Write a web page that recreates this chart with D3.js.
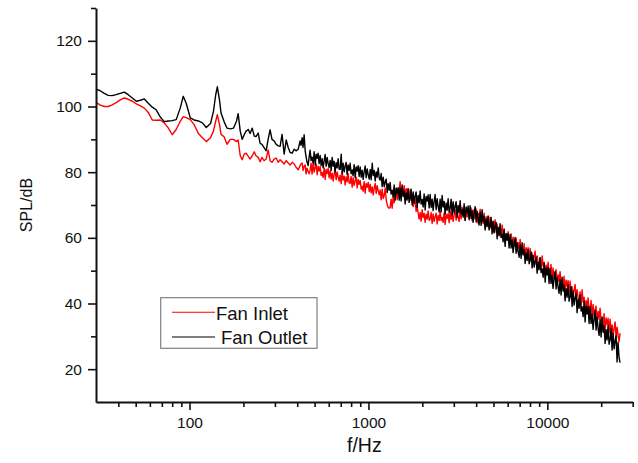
<!DOCTYPE html>
<html>
<head>
<meta charset="utf-8">
<script src="https://cdn.jsdelivr.net/npm/d3@7"></script>
<style>
  body { margin: 0; background: #fff; }
  svg { display: block; font-family: "Liberation Sans", Arial, sans-serif; }
</style>
</head>
<body>
<div id="chart"></div>
<script>
// Spectrum: one shared frequency grid, two SPL series
const freqHz = [
  30, 31.7, 33.4, 35.1, 36.9, 38.9, 41.0, 43.2, 45.4, 47.9,
  50.4, 53.1, 55.9, 58.8, 61.9, 65.1, 68.6, 72.2, 76.0, 80.0,
  84.2, 88.7, 92.2, 95.8, 101, 106, 112, 118, 124, 131,
  136, 140, 143, 147, 150, 156, 162, 169, 176, 183, 187,
  192, 197, 202, 207, 213, 218, 224, 230, 235, 242,
  248, 254, 261, 268, 275, 282, 289, 297, 305, 313,
  321, 329, 338, 347, 356, 365, 375, 384, 394, 405,
  415, 420, 426, 431, 437, 443, 448, 454, 460, 466,
  472, 478, 484, 491, 497, 504, 510, 517, 523, 530,
  537, 544, 551, 558, 566, 573, 580, 588, 595, 603,
  611, 619, 627, 635, 643, 651, 660, 668, 677, 686,
  695, 704, 713, 722, 732, 741, 751, 760, 770, 780,
  790, 800, 811, 821, 832, 843, 854, 865, 876, 887,
  899, 911, 922, 934, 946, 959, 971, 984, 997, 1010,
  1023, 1036, 1050, 1063, 1077, 1091, 1105, 1119, 1134, 1149,
  1163, 1178, 1193, 1209, 1225, 1241, 1257, 1273, 1289, 1306,
  1322, 1339, 1357, 1374, 1392, 1410, 1429, 1447, 1466, 1485,
  1503, 1523, 1543, 1563, 1583, 1604, 1624, 1645, 1667, 1688,
  1710, 1732, 1755, 1778, 1800, 1824, 1847, 1871, 1896, 1920,
  1945, 1970, 1996, 2022, 2048, 2075, 2101, 2129, 2156, 2184,
  2212, 2241, 2270, 2299, 2329, 2359, 2390, 2421, 2452, 2484,
  2516, 2549, 2582, 2615, 2649, 2683, 2718, 2753, 2789, 2825,
  2862, 2899, 2937, 2975, 3013, 3052, 3092, 3132, 3172, 3213,
  3255, 3297, 3340, 3383, 3427, 3471, 3516, 3562, 3608, 3654,
  3700, 3748, 3797, 3846, 3896, 3947, 3998, 4050, 4102, 4155,
  4210, 4264, 4319, 4375, 4432, 4489, 4548, 4607, 4666, 4726,
  4787, 4849, 4912, 4976, 5040, 5105, 5172, 5239, 5307, 5375,
  5445, 5516, 5587, 5659, 5733, 5807, 5882, 5958, 6036, 6114,
  6194, 6274, 6355, 6437, 6520, 6605, 6690, 6777, 6865, 6954,
  7045, 7136, 7228, 7322, 7417, 7513, 7610, 7709, 7809, 7910,
  8013, 8117, 8221, 8328, 8436, 8545, 8656, 8768, 8881, 8990,
  9100, 9225, 9350, 9475, 9600, 9725, 9850, 9975, 10100, 10225,
  10350, 10485, 10620, 10760, 10900, 11045, 11190, 11335, 11480, 11630,
  11780, 11935, 12090, 12245, 12400, 12565, 12730, 12895, 13060, 13230,
  13400, 13575, 13750, 13930, 14110, 14295, 14480, 14665, 14850, 15045,
  15240, 15440, 15640, 15845, 16050, 16260, 16470, 16685, 16900, 17115,
  17330, 17555, 17780, 18015, 18250, 18485, 18720, 18965, 19210, 19460,
  19710, 19970, 20230, 20495, 20760, 21030, 21300, 21575, 21850, 22135,
  22420, 22715, 23010, 23310, 23610, 23915, 24220, 24535, 24850, 25175,
  25500
];

const inletDb = [
  101.3, 100.4, 100.0, 100.0, 100.5, 101.2, 102.0, 102.6, 102.2, 101.6,
  100.8, 100.2, 99.5, 98.2, 95.9, 95.8, 95.9, 95.0, 93.5, 91.4,
  93.0, 95.5, 96.9, 96.6, 96.0, 94.5, 91.8, 90.5, 89.3, 90.5,
  92.5, 95.5, 97.5, 94.5, 91.5, 90.8, 88.5, 90.0, 90.0, 89.3, 89.8,
  85.0, 83.8, 85.5, 85.8, 84.8, 84.0, 85.0, 86.2, 85.0, 84.5,
  83.2, 84.5, 83.5, 84.0, 86.8, 83.5, 83.0, 84.0, 84.3, 83.0,
  83.8, 83.2, 82.5, 83.5, 82.8, 82.2, 83.0, 82.5, 81.5, 80.7,
  82.0, 82.5, 82.8, 80.5, 81.8, 82.2, 79.5, 81.2, 80.2, 79.5,
  80.6, 82.7, 79.4, 83.2, 80.0, 81.4, 82.5, 79.2, 81.8, 80.3,
  81.7, 79.0, 79.9, 78.4, 81.3, 77.8, 80.8, 79.6, 81.1, 78.3,
  80.5, 77.9, 79.7, 77.3, 79.3, 80.8, 77.7, 80.1, 78.5, 77.3,
  79.1, 76.5, 80.0, 77.6, 78.8, 76.1, 78.6, 77.1, 79.6, 76.7,
  76.6, 78.7, 75.4, 78.3, 76.0, 77.4, 78.5, 75.2, 77.8, 76.3,
  77.5, 74.8, 75.7, 74.2, 77.1, 73.6, 76.6, 75.4, 76.9, 74.1,
  76.3, 73.7, 75.5, 73.1, 75.1, 76.6, 73.5, 75.9, 74.3, 73.1,
  74.6, 71.6, 74.8, 72.0, 72.9, 75.2, 71.5, 70.1, 69.3, 69.0,
  69.2, 71.8, 69.0, 72.5, 70.7, 72.7, 74.3, 71.6, 74.7, 73.8,
  77.1, 74.2, 74.9, 73.2, 75.9, 72.2, 75.0, 73.6, 74.9, 71.9,
  74.7, 71.5, 72.6, 69.5, 70.9, 71.8, 68.0, 69.7, 67.5, 65.7,
  67.7, 65.1, 68.6, 66.2, 67.4, 64.7, 67.2, 65.7, 68.2, 65.3,
  65.7, 67.7, 64.4, 67.3, 65.0, 66.4, 67.5, 64.2, 66.8, 65.3,
  68.0, 65.3, 66.2, 64.7, 67.6, 64.1, 67.1, 65.9, 67.4, 64.6,
  68.2, 65.6, 67.4, 65.0, 67.0, 68.5, 65.4, 67.8, 66.2, 65.0,
  68.4, 65.8, 69.3, 66.9, 68.1, 65.4, 67.9, 66.4, 68.9, 66.0,
  66.9, 69.1, 65.3, 68.5, 65.8, 66.9, 68.8, 64.6, 67.5, 65.8,
  68.7, 65.3, 66.3, 64.3, 67.5, 63.3, 66.4, 64.9, 66.4, 62.9,
  66.3, 63.0, 64.9, 61.8, 63.9, 65.5, 61.7, 64.2, 62.1, 60.6,
  63.6, 60.2, 63.9, 61.0, 62.2, 58.7, 61.2, 59.3, 61.9, 58.4,
  59.1, 61.2, 57.3, 60.2, 57.4, 58.9, 59.9, 55.9, 58.6, 56.7,
  59.5, 56.1, 57.0, 55.0, 58.2, 54.0, 57.0, 55.5, 57.0, 53.4,
  56.8, 53.5, 55.3, 52.3, 54.3, 55.9, 52.0, 54.5, 52.4, 50.9,
  53.9, 50.3, 54.5, 51.3, 52.6, 48.9, 51.7, 49.6, 52.6, 48.7,
  49.6, 51.9, 47.4, 50.8, 47.6, 49.2, 50.3, 45.8, 48.8, 46.7,
  49.7, 46.0, 47.0, 44.8, 48.3, 43.6, 47.1, 45.3, 47.0, 43.1,
  46.8, 43.1, 45.1, 41.7, 44.0, 45.8, 41.4, 44.2, 41.9, 40.1,
  43.6, 39.5, 44.2, 40.4, 41.9, 37.7, 40.9, 38.5, 41.7, 37.3,
  38.3, 40.9, 35.9, 39.7, 36.1, 38.0, 39.2, 34.2, 37.6, 35.2,
  38.6, 34.4, 35.5, 33.0, 36.9, 31.7, 35.6, 33.6, 35.5, 31.1,
  35.2, 31.2, 33.5, 29.8, 32.4, 34.4, 29.7, 32.8, 30.3, 28.4,
  31.0
];

const outletDb = [
  105.3, 104.8, 104.0, 103.4, 103.3, 103.6, 104.0, 104.4, 103.6, 102.6,
  101.6, 101.9, 102.3, 101.0, 99.8, 99.0, 96.8, 95.4, 95.6, 95.7,
  96.0, 99.5, 103.1, 101.0, 96.5, 95.9, 95.6, 95.0, 93.6, 94.8,
  98.5, 103.5, 106.0, 102.0, 98.0, 95.4, 93.4, 93.2, 93.4, 95.5, 97.8,
  92.5, 90.0, 91.4, 92.5, 93.0, 91.8, 93.4, 91.0, 90.8, 91.9,
  88.8, 88.5, 87.5, 86.5, 90.0, 92.9, 90.0, 89.5, 88.5, 88.0,
  87.9, 91.5, 85.5, 89.8, 87.5, 86.0, 85.8, 87.0, 86.5, 87.0,
  89.5, 88.2, 90.5, 87.5, 91.4, 86.5, 84.7, 83.0, 82.0, 84.5,
  86.7, 83.5, 84.6, 82.8, 86.2, 82.2, 85.5, 84.2, 85.8, 82.6,
  85.1, 82.0, 84.1, 81.3, 83.6, 85.4, 81.8, 84.5, 82.7, 81.4,
  83.6, 80.5, 84.5, 81.8, 83.3, 80.1, 82.9, 81.3, 84.1, 80.9,
  80.9, 85.5, 79.5, 82.7, 80.1, 81.8, 83.0, 79.2, 82.2, 80.5,
  82.7, 79.5, 80.7, 78.9, 82.3, 78.3, 81.6, 80.3, 82.0, 78.7,
  81.6, 78.5, 80.6, 77.8, 80.1, 81.9, 78.3, 81.0, 79.2, 77.9,
  80.8, 77.7, 82.7, 79.0, 80.5, 77.3, 80.1, 78.5, 81.3, 78.1,
  77.6, 79.6, 75.6, 78.5, 75.6, 77.0, 77.9, 73.8, 76.5, 74.5,
  76.9, 73.3, 74.5, 72.5, 76.1, 71.5, 75.2, 73.6, 75.3, 71.5,
  75.1, 71.2, 76.1, 72.6, 74.3, 70.3, 73.7, 71.5, 75.0, 70.8,
  72.0, 74.8, 70.0, 74.0, 70.6, 72.6, 74.0, 69.3, 72.9, 70.7,
  74.3, 70.3, 71.7, 69.4, 73.4, 68.5, 72.6, 71.2, 73.1, 69.1,
  73.2, 69.3, 71.8, 68.3, 71.1, 73.2, 68.6, 71.9, 69.6, 67.9,
  71.8, 67.9, 72.9, 69.4, 71.1, 67.2, 70.6, 68.4, 71.9, 67.8,
  69.0, 71.8, 67.0, 71.0, 67.6, 69.6, 71.0, 66.3, 69.9, 67.7,
  71.3, 67.3, 68.6, 66.3, 70.4, 65.3, 69.4, 67.6, 69.7, 65.5,
  69.8, 65.9, 68.3, 64.7, 67.4, 69.5, 64.9, 68.1, 65.7, 63.9,
  67.8, 63.8, 68.6, 64.9, 66.5, 62.4, 65.7, 63.4, 66.7, 62.4,
  63.5, 66.2, 61.2, 65.1, 61.5, 63.4, 64.7, 59.7, 63.2, 60.8,
  64.3, 60.1, 61.2, 58.8, 62.7, 57.4, 61.3, 59.3, 61.3, 56.9,
  61.0, 56.9, 59.3, 55.5, 58.2, 60.1, 55.3, 58.5, 55.9, 54.1,
  57.8, 53.7, 58.5, 54.8, 56.4, 52.2, 55.4, 53.1, 56.4, 52.1,
  53.1, 55.7, 50.8, 54.6, 51.1, 52.9, 54.1, 49.2, 52.6, 50.3,
  54.0, 49.4, 50.6, 48.0, 52.3, 46.5, 50.8, 48.7, 50.9, 46.1,
  50.6, 46.1, 48.7, 44.6, 47.5, 49.7, 44.4, 47.9, 45.1, 43.1,
  47.2, 42.6, 48.0, 43.8, 45.6, 40.8, 44.6, 41.9, 45.7, 40.7,
  41.9, 45.1, 39.1, 43.8, 39.5, 41.7, 43.1, 37.2, 41.3, 38.5,
  42.6, 37.7, 39.0, 36.0, 40.7, 34.4, 39.2, 36.8, 39.1, 33.9,
  39.0, 33.9, 36.8, 32.1, 35.4, 37.9, 31.9, 35.9, 32.6, 30.3,
  35.1, 29.8, 35.9, 31.2, 33.2, 27.8, 32.0, 28.9, 33.3, 27.6,
  28.9, 32.4, 25.8, 30.9, 26.2, 28.6, 30.2, 22.2, 28.2, 23.5,
  22.0
];

const seriesNames = ['Fan Inlet', 'Fan Outlet'];
const xMajorTicks = [100, 1000, 10000];
const xMinorTicks = [40, 50, 60, 70, 80, 90, 200, 300, 400, 500, 600, 700, 800, 900,
  2000, 3000, 4000, 5000, 6000, 7000, 8000, 9000, 20000, 30000];
const yMajorTicks = [20, 40, 60, 80, 100, 120];
const yMinorTicks = [30, 50, 70, 90, 110, 130];

function drawChart() {
  const W = 638, H = 463;
  const left = 96, right = 632.7, top = 8, bottom = 402;

  const svg = d3.select('#chart').append('svg').attr('width', W).attr('height', H);

  const x = d3.scaleLog().domain([30, 30000]).range([left, right]);
  const y = d3.scaleLinear().domain([10, 130]).range([bottom, top]);

  // spectra: inlet first so the outlet sits on top
  const line = d3.line().x(d => x(d.f)).y(d => y(d.v));
  const series = [
    { name: seriesNames[0], color: '#ff0000', values: inletDb },
    { name: seriesNames[1], color: '#000000', values: outletDb }
  ];
  series.forEach(s => {
    const pts = freqHz.map((f, i) => ({ f, v: s.values[i] })).filter(d => d.v != null);
    svg.append('path').datum(pts)
      .attr('fill', 'none').attr('stroke', s.color).attr('stroke-width', 1.4)
      .attr('stroke-linejoin', 'round').attr('d', line);
  });

  // axes
  const gx = svg.append('g').attr('transform', `translate(0,${bottom})`);
  gx.call(d3.axisBottom(x).tickValues(xMajorTicks).tickFormat(d3.format('d'))
    .tickSize(8).tickSizeOuter(0).tickPadding(7));
  gx.append('g').call(d3.axisBottom(x).tickValues(xMinorTicks).tickFormat('').tickSize(5).tickSizeOuter(0))
    .select('.domain').remove();

  const gy = svg.append('g').attr('transform', `translate(${left},0)`);
  gy.call(d3.axisLeft(y).tickValues(yMajorTicks).tickSize(8).tickSizeOuter(0).tickPadding(6));
  gy.append('g').call(d3.axisLeft(y).tickValues(yMinorTicks).tickFormat('').tickSize(5).tickSizeOuter(0))
    .select('.domain').remove();

  svg.selectAll('.domain').attr('stroke', '#111').attr('stroke-width', 2);
  svg.selectAll('.tick line').attr('stroke', '#111').attr('stroke-width', 1.6);
  svg.selectAll('.tick text').attr('fill', '#111').style('font-size', '15.5px')
    .style('font-family', '"Liberation Sans", Arial, sans-serif');

  // axis titles
  svg.append('text').attr('x', (left + right) / 2).attr('y', 452)
    .attr('text-anchor', 'middle').style('font-size', '19.5px').attr('fill', '#111').text('f/Hz');
  svg.append('text').attr('transform', `translate(31.5,${(top + bottom) / 2}) rotate(-90)`)
    .attr('text-anchor', 'middle').style('font-size', '16px').attr('fill', '#111').text('SPL/dB');

  // legend
  const lg = svg.append('g');
  lg.append('rect').attr('x', 160.7).attr('y', 297.7).attr('width', 156.3).attr('height', 50.6)
    .attr('fill', '#fff').attr('stroke', '#808080').attr('stroke-width', 1.2);
  const rows = [
    { y: 312.3, tx: 216, ty: 319.5 },
    { y: 337, tx: 221, ty: 343.5 }
  ];
  series.forEach((s, i) => {
    const r = rows[i];
    lg.append('line').attr('x1', 172).attr('x2', 215).attr('y1', r.y).attr('y2', r.y)
      .attr('stroke', s.color).attr('stroke-width', 1.1);
    lg.append('text').attr('x', r.tx).attr('y', r.ty).style('font-size', '18.5px')
      .attr('fill', '#111').text(s.name);
  });
}

drawChart();
</script>
</body>
</html>
